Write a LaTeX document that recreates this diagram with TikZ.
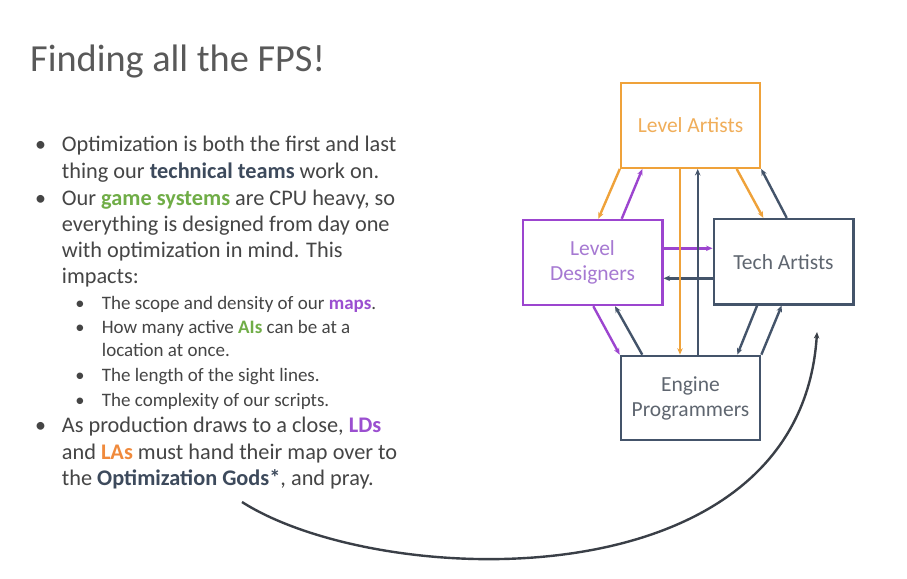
\documentclass[tikz,border=0pt]{standalone}
\usepackage{fontspec}
\setmainfont{Carlito}
\usetikzlibrary{arrows.meta}
\definecolor{txt}{HTML}{454545}
\definecolor{ttl}{HTML}{595959}
\definecolor{dk}{HTML}{44546A}
\definecolor{dkt}{HTML}{3D4A5C}
\definecolor{crv}{HTML}{3A3F47}
\definecolor{org}{HTML}{EFA23A}
\definecolor{orgt}{HTML}{F0AE5A}
\definecolor{orgb}{HTML}{F08A3C}
\definecolor{pur}{HTML}{9C45CF}
\definecolor{purt}{HTML}{A679D2}
\definecolor{purb}{HTML}{9B4FD0}
\definecolor{grn}{HTML}{70AD47}
\definecolor{boxt}{HTML}{5F6670}
\tikzset{
  ln/.style={anchor=base west, inner sep=0pt, text=txt, font=\fontsize{22.3}{26}\selectfont},
  sln/.style={anchor=base west, inner sep=0pt, text=txt, font=\fontsize{19}{22}\selectfont},
  bul/.style={anchor=base, inner sep=0pt, text=txt, font=\fontsize{22}{26}\selectfont},
  sbul/.style={anchor=base, inner sep=0pt, text=txt, font=\fontsize{18.5}{22}\selectfont},
  team/.style={draw, line width=2.4pt, fill=white, align=center, inner sep=0pt,
    minimum width=139pt, minimum height=84.5pt, font=\fontsize{21.5}{25}\selectfont},
  conn/.style={line width=2.4pt, -{Stealth[length=6.5pt,width=5.5pt]}},
}
\begin{document}
\begin{tikzpicture}[x=1pt,y=-1pt]
\useasboundingbox[fill=white] (0,0) rectangle (907,578);
% title
\node[anchor=base west, inner sep=0pt, text=ttl, font=\fontsize{38.3}{42}\selectfont] (title) at (30,71.7) {Finding all the FPS!};
% bullets
\node[bul] (b1) at (40.7,151.7) {•};
\node[ln] (l1) at (61.7,151.7) {Optimization is both the first and last};
\node[ln] (l2) at (61.7,178.3) {thing our \textcolor{dkt}{\textbf{technical teams}} work on.};
\node[bul] (b2) at (40.7,205) {•};
\node[ln] (l3) at (61.7,205) {Our \textcolor{grn}{\textbf{game systems}} are CPU heavy, so};
\node[ln] (l4) at (61.7,231) {everything is designed from day one};
\node[ln] (l5) at (61.7,257.3) {with optimization in mind. This};
\node[ln] (l6) at (61.7,283.3) {impacts:};
\node[sbul] (s1b) at (80,309.3) {•};
\node[sln] (s1) at (101.7,309.3) {The scope and density of our \textcolor{purb}{\textbf{maps}}.};
\node[sbul] (s2b) at (80,333.3) {•};
\node[sln] (s2) at (101.7,333.3) {How many active \textcolor{grn}{\textbf{AIs}} can be at a};
\node[sln] (s2c) at (101.7,356) {location at once.};
\node[sbul] (s3b) at (80,381.7) {•};
\node[sln] (s3) at (101.7,381.7) {The length of the sight lines.};
\node[sbul] (s4b) at (80,406) {•};
\node[sln] (s4) at (101.7,406) {The complexity of our scripts.};
\node[bul] (b3) at (40.7,432.7) {•};
\node[ln] (l7) at (61.7,432.7) {As production draws to a close, \textcolor{purb}{\textbf{LDs}}};
\node[ln] (l8) at (61.7,459.3) {and \textcolor{orgb}{\textbf{LAs}} must hand their map over to};
\node[ln] (l9) at (61.7,485) {the \textcolor{dkt}{\textbf{Optimization Gods*}}, and pray.};
% boxes
\node[team, draw=org, text=orgt] (LA) at (690.5,125.5) {Level Artists};
\node[team, draw=pur, text=purt, minimum width=139.6pt, minimum height=85pt] (LD) at (592.5,262.5) {Level\\Designers};
\node[team, draw=dk, text=boxt, minimum width=139.6pt, minimum height=85.3pt] (TA) at (783.5,261.7) {Tech Artists};
\node[team, draw=dk, text=boxt, minimum width=139.3pt, minimum height=84.3pt] (EP) at (690.5,398) {Engine\\Programmers};
% horizontal connectors (drawn first, verticals cross over them)
\draw[conn, pur] ([yshift=14.2]LD.east) -- ([yshift=14.2]LD.east -| TA.west);
\draw[conn, dk] ([yshift=-16.6]TA.west) -- ([yshift=-16.6]TA.west -| LD.east);
% LA <-> LD
\draw[conn, org] (LA.south west) -- ([xshift=5.8]LD.north);
\draw[conn, pur] ([xshift=29.2]LD.north) -- ([xshift=22.6]LA.south west);
% LA <-> EP
\draw[conn, org] ([xshift=-10.5]LA.south) -- ([xshift=-10.5]EP.north);
\draw[conn, dk] ([xshift=7.2]EP.north) -- ([xshift=7.2]LA.south);
% LA <-> TA
\draw[conn, org] ([xshift=46.2]LA.south) -- ([xshift=-20.2]TA.north);
\draw[conn, dk] ([xshift=3.2]TA.north) -- (LA.south east);
% LD <-> EP
\draw[conn, pur] ([xshift=0.8]LD.south) -- (EP.north west);
\draw[conn, dk] ([xshift=22.6]EP.north west) -- ([xshift=22.5]LD.south);
% TA <-> EP
\draw[conn, dk] ([xshift=44.6]TA.south west) -- ([xshift=46.8]EP.north);
\draw[conn, dk] (EP.north east) -- ([xshift=-1.8]TA.south);
% long curve
\coordinate (cs) at (242,502);
\coordinate (ce) at (817,332);
\draw[line width=2.4pt, draw=crv, -{Stealth[length=6.5pt,width=5.5pt]}] (cs) .. controls (380,590) and (800,605) .. (ce);
\end{tikzpicture}
\end{document}
